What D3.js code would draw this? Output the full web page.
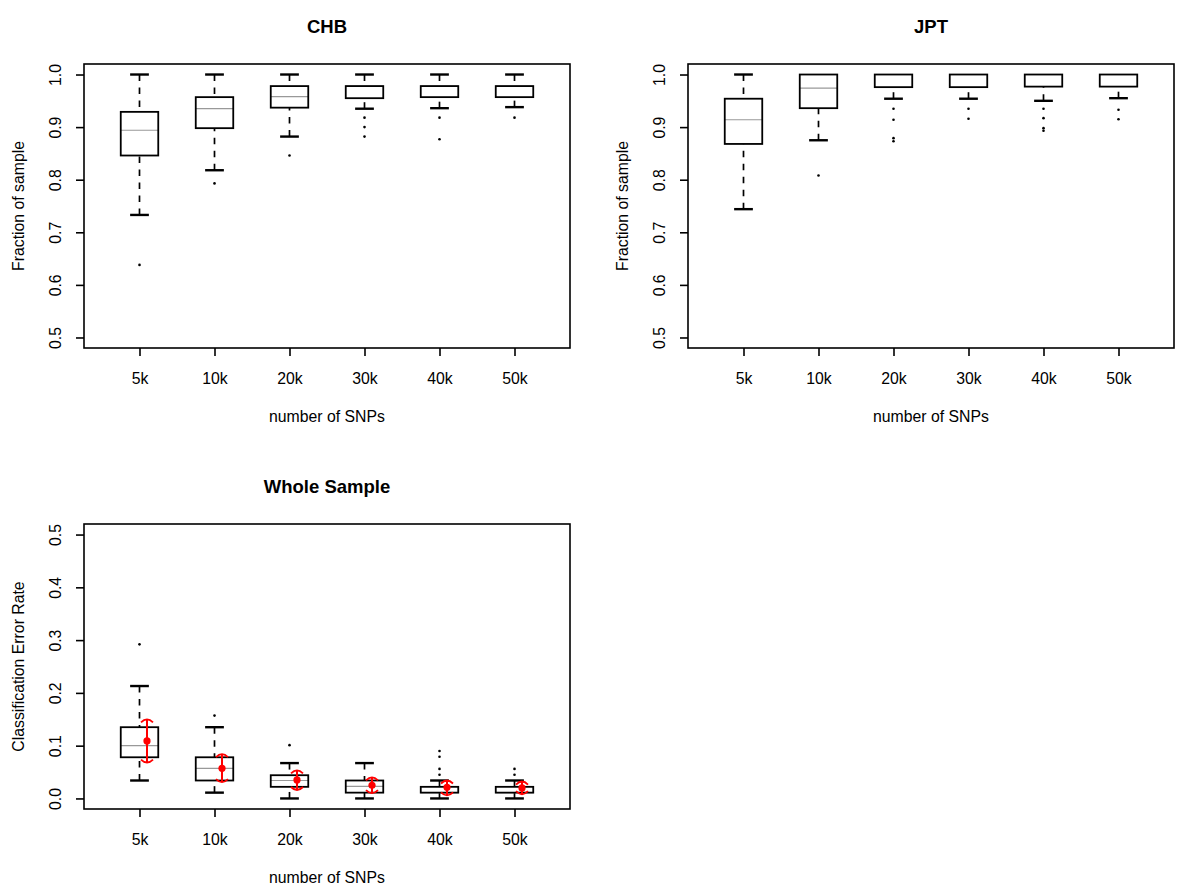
<!DOCTYPE html>
<html><head><meta charset="utf-8">
<script src="https://cdn.jsdelivr.net/npm/d3@7"></script>
<style>body{margin:0;background:#fff}svg{display:block}text{font-family:"Liberation Sans",Arial,sans-serif;fill:#000}</style>
</head><body>
<script>
const categories = ["5k","10k","20k","30k","40k","50k"];
const topTicks = [0.5,0.6,0.7,0.8,0.9,1.0];
const bottomTicks = [0.0,0.1,0.2,0.3,0.4,0.5];

// CHB
const chbLow  = [0.733,0.818,0.882,0.935,0.936,0.938];
const chbQ1   = [0.846,0.898,0.937,0.955,0.957,0.957];
const chbMed  = [0.894,0.935,0.958,0.978,0.978,0.978];
const chbQ3   = [0.929,0.957,0.978,0.978,0.978,0.978];
const chbHigh = [1.0,1.0,1.0,1.0,1.0,1.0];
const chbOut  = [[0.638],[0.793],[0.846],[0.918,0.900,0.882],[0.918,0.877],[0.918]];

// JPT
const jptLow  = [0.744,0.875,0.954,0.954,0.950,0.955];
const jptQ1   = [0.868,0.936,0.976,0.976,0.977,0.977];
const jptMed  = [0.914,0.974,1.0,1.0,1.0,1.0];
const jptQ3   = [0.954,1.0,1.0,1.0,1.0,1.0];
const jptHigh = [1.0,1.0,1.0,1.0,1.0,1.0];
const jptOut  = [[],[0.808],[0.935,0.914,0.879,0.873],[0.935,0.916],[0.935,0.917,0.898,0.893],[0.933,0.915]];

// Whole sample
const allLow  = [0.034,0.011,0.0,0.0,0.0,0.0];
const allQ1   = [0.078,0.034,0.022,0.011,0.011,0.011];
const allMed  = [0.100,0.057,0.034,0.023,0.011,0.011];
const allQ3   = [0.135,0.078,0.044,0.034,0.022,0.022];
const allHigh = [0.213,0.135,0.067,0.067,0.034,0.034];
const allOut  = [[0.292],[0.157],[0.101],[],[0.090,0.079,0.056,0.045],[0.056,0.045]];
const allMean = [0.109,0.057,0.035,0.025,0.021,0.020];
const allCiLo = [0.068,0.031,0.016,0.010,0.006,0.008];
const allCiHi = [0.150,0.084,0.053,0.040,0.034,0.032];

const W = 1200, H = 892;
const svg = d3.select("body").append("svg").attr("width", W).attr("height", H);

function panel(opt){
  const g = svg.append("g");
  const x = d3.scaleLinear().domain([0.26, 6.74]).range([opt.left, opt.right]);
  const y = d3.scaleLinear().domain(opt.ydom).range([opt.bottom, opt.top]);
  const fs = 15.8;
  g.append("rect").attr("x", opt.left).attr("y", opt.top)
    .attr("width", opt.right - opt.left).attr("height", opt.bottom - opt.top)
    .attr("fill", "none").attr("stroke", "#000").attr("stroke-width", 1.6);
  const xa = g.append("g").attr("transform", `translate(0,${opt.bottom})`)
    .call(d3.axisBottom(x).tickValues([1,2,3,4,5,6]).tickSize(8).tickPadding(0)
      .tickFormat((d,i)=>categories[i]));
  xa.select(".domain").remove();
  xa.selectAll("line").attr("stroke-width", 1.6);
  xa.selectAll("text").attr("font-size", fs).attr("y", 30).attr("dy", "0.35em")
    .style("font-family", '"Liberation Sans",Arial,sans-serif');
  const ya = g.append("g").attr("transform", `translate(${opt.left},0)`)
    .call(d3.axisLeft(y).tickValues(opt.ticks).tickSize(8).tickFormat(d3.format(".1f")));
  ya.select(".domain").remove();
  ya.selectAll("line").attr("stroke-width", 1.6);
  ya.selectAll("text").attr("font-size", fs)
    .attr("x", null).attr("dy", null)
    .attr("text-anchor", "middle").attr("dominant-baseline", "central")
    .attr("transform", `translate(-29,0) rotate(-90)`)
    .style("font-family", '"Liberation Sans",Arial,sans-serif');
  const cx = (opt.left + opt.right) / 2;
  g.append("text").attr("x", cx).attr("y", opt.top - 38).attr("text-anchor","middle")
    .attr("dominant-baseline","central").attr("font-size", 18.5).attr("font-weight","bold").text(opt.title);
  g.append("text").attr("x", cx).attr("y", opt.bottom + 68).attr("text-anchor","middle")
    .attr("dominant-baseline","central").attr("font-size", fs).text("number of SNPs");
  const cy = (opt.top + opt.bottom) / 2;
  g.append("text").attr("transform", `translate(${opt.left - 66},${cy}) rotate(-90)`)
    .attr("text-anchor","middle").attr("dominant-baseline","central").attr("font-size", fs).text(opt.ylab);

  const d = opt.data;
  const bw = 0.25, cw = 0.125;
  categories.forEach((c, i) => {
    const xi = i + 1;
    const bx = g.append("g");
    if (d.low[i] < d.q1[i]) {
      bx.append("line").attr("x1", x(xi)).attr("x2", x(xi)).attr("y1", y(d.low[i])).attr("y2", y(d.q1[i]))
        .attr("stroke", "#000").attr("stroke-width", 1.7).attr("stroke-dasharray", "6.5 6.5");
      bx.append("line").attr("x1", x(xi - cw)).attr("x2", x(xi + cw)).attr("y1", y(d.low[i])).attr("y2", y(d.low[i]))
        .attr("stroke", "#000").attr("stroke-width", 2.4);
    }
    if (d.high[i] > d.q3[i]) {
      bx.append("line").attr("x1", x(xi)).attr("x2", x(xi)).attr("y1", y(d.high[i])).attr("y2", y(d.q3[i]))
        .attr("stroke", "#000").attr("stroke-width", 1.7).attr("stroke-dasharray", "6.5 6.5");
      bx.append("line").attr("x1", x(xi - cw)).attr("x2", x(xi + cw)).attr("y1", y(d.high[i])).attr("y2", y(d.high[i]))
        .attr("stroke", "#000").attr("stroke-width", 2.4);
    }
    bx.append("rect").attr("x", x(xi - bw)).attr("width", x(xi + bw) - x(xi - bw))
      .attr("y", y(d.q3[i])).attr("height", y(d.q1[i]) - y(d.q3[i]))
      .attr("fill", "#fff").attr("stroke", "none");
    bx.append("line").attr("x1", x(xi - bw)).attr("x2", x(xi + bw)).attr("y1", y(d.med[i])).attr("y2", y(d.med[i]))
      .attr("stroke", "#999").attr("stroke-width", 1.2);
    bx.append("rect").attr("x", x(xi - bw)).attr("width", x(xi + bw) - x(xi - bw))
      .attr("y", y(d.q3[i])).attr("height", y(d.q1[i]) - y(d.q3[i]))
      .attr("fill", "none").attr("stroke", "#000").attr("stroke-width", 1.8);
    d.out[i].forEach(v => {
      bx.append("circle").attr("cx", x(xi)).attr("cy", y(v)).attr("r", 1.3).attr("fill", "#000");
    });
    if (d.mean) {
      const mx = x(xi + 0.1);
      const red = "#ff0000";
      bx.append("line").attr("x1", mx).attr("x2", mx).attr("y1", y(d.ciLo[i])).attr("y2", y(d.ciHi[i]))
        .attr("stroke", red).attr("stroke-width", 2);
      const hw = 6;
      const yt = y(d.ciHi[i]), yb = y(d.ciLo[i]);
      bx.append("path").attr("d", `M${mx-hw},${yt+3} Q${mx},${yt-3} ${mx+hw},${yt+3}`)
        .attr("fill","none").attr("stroke", red).attr("stroke-width", 1.8);
      bx.append("path").attr("d", `M${mx-hw},${yb-3} Q${mx},${yb+3} ${mx+hw},${yb-3}`)
        .attr("fill","none").attr("stroke", red).attr("stroke-width", 1.8);
      bx.append("circle").attr("cx", mx).attr("cy", y(d.mean[i])).attr("r", 3.6).attr("fill", red);
    }
  });
}

panel({left:84, right:570, top:64, bottom:348, ydom:[0.48,1.02], ticks:topTicks, title:"CHB",
  ylab:"Fraction of sample", data:{low:chbLow,q1:chbQ1,med:chbMed,q3:chbQ3,high:chbHigh,out:chbOut}});
panel({left:688, right:1174, top:64, bottom:348, ydom:[0.48,1.02], ticks:topTicks, title:"JPT",
  ylab:"Fraction of sample", data:{low:jptLow,q1:jptQ1,med:jptMed,q3:jptQ3,high:jptHigh,out:jptOut}});
panel({left:84, right:570, top:524, bottom:809, ydom:[-0.02,0.52], ticks:bottomTicks, title:"Whole Sample",
  ylab:"Classification Error Rate", data:{low:allLow,q1:allQ1,med:allMed,q3:allQ3,high:allHigh,out:allOut,
  mean:allMean,ciLo:allCiLo,ciHi:allCiHi}});
</script>
</body></html>
